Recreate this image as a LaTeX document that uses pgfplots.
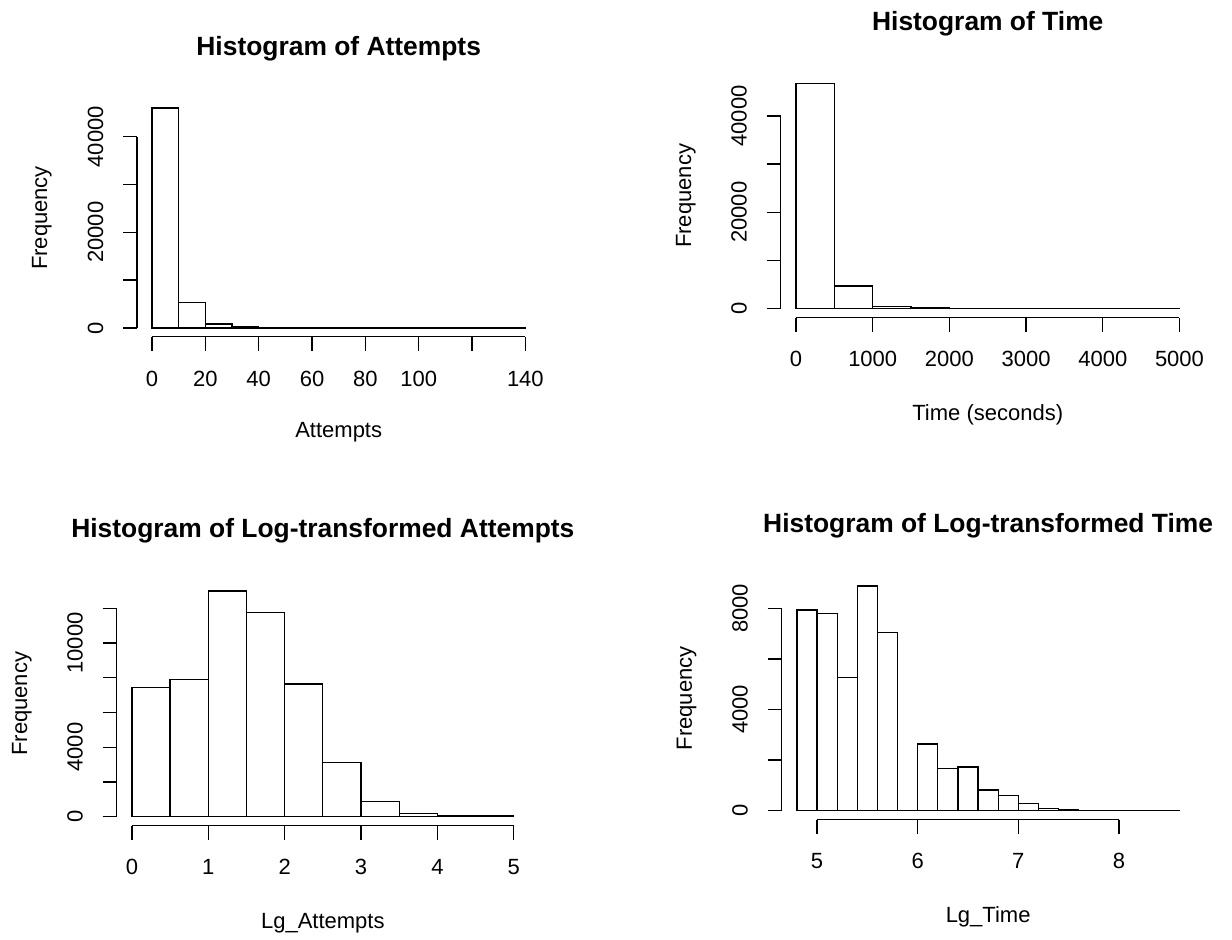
\documentclass[border=0pt]{standalone}
\usepackage{fontspec}
\setmainfont{Liberation Sans}
\usepackage{pgfplots}
\pgfplotsset{compat=1.18}

\pgfplotsset{
  rhist/.style={
    scale only axis,
    anchor=south west,
    axis lines*=left,
    axis line style={draw=none},
    tick align=outside,
    major tick length=7pt,
    every tick/.style={black, line width=0.7pt},
    scaled ticks=false,
    clip=false,
    /pgf/number format/assume math mode=true,
    tick label style={font=\fontsize{11}{13}\selectfont},
    label style={font=\fontsize{11}{13}\selectfont},
    title style={font=\fontsize{13.2}{15}\selectfont\bfseries, anchor=base},
    yticklabel style={rotate=90, anchor=south},
    xticklabel shift=6.4pt,
    yticklabel shift=6.4pt,
    ylabel={Frequency},
    ylabel style={anchor=center},
    xlabel style={anchor=center, at={(axis description cs:0.5,-0.40)}},
    title style={at={(axis description cs:0.5,1.132)}},
  },
  rbar/.style={ybar interval, draw=black, fill=white, line width=0.65pt},
}

\begin{document}
\begin{tikzpicture}
\useasboundingbox (0,0) rectangle (616pt,470pt);

% top left
\begin{axis}[rhist, at={(68.55pt,301.6pt)}, width=201.6pt, height=118.8pt,
  xmin=-5.6, xmax=145.6, ymin=-1840, ymax=47840,
  xtick={0,20,...,140}, xticklabels={0,20,40,60,80,100,,140},
  ytick={0,10000,...,40000}, yticklabels={0,,20000,,40000},
  title={Histogram of Attempts},
  xlabel={Attempts},
  ylabel style={at={(axis description cs:-0.236,0.5)}},
]
\addplot[rbar] coordinates {
  (0,46000) (10,5290) (20,840) (30,350) (40,150) (50,70) (60,35)
  (70,20) (80,12) (90,8) (100,5) (110,4) (120,3) (130,2) (140,2)
};
\draw[line width=0.7pt] (axis cs:0,-1840) -- (axis cs:140,-1840);
\draw[line width=0.7pt] (axis cs:-5.6,0) -- (axis cs:-5.6,40000);
\end{axis}

% top right
\begin{axis}[rhist, at={(390.35pt,311.15pt)}, width=207.05pt, height=121.75pt,
  xmin=-200, xmax=5200, ymin=-1872, ymax=48672,
  xtick={0,1000,...,5000}, xticklabels={0,1000,2000,3000,4000,5000},
  ytick={0,10000,...,40000}, yticklabels={0,,20000,,40000},
  title={Histogram of Time},
  xlabel={Time (seconds)},
  ylabel style={at={(axis description cs:-0.229,0.5)}},
]
\addplot[rbar] coordinates {
  (0,46800) (500,4710) (1000,480) (1500,140) (2000,50) (2500,25)
  (3000,15) (3500,10) (4000,6) (4500,4) (5000,4)
};
\draw[line width=0.7pt] (axis cs:0,-1872) -- (axis cs:5000,-1872);
\draw[line width=0.7pt] (axis cs:-200,0) -- (axis cs:-200,40000);
\end{axis}

% bottom left
\begin{axis}[rhist, at={(58.35pt,57.15pt)}, width=206.15pt, height=121.9pt,
  xmin=-0.2, xmax=5.2, ymin=-520, ymax=13520,
  xtick={0,1,...,5}, xticklabels={0,1,2,3,4,5},
  ytick={0,2000,...,12000}, yticklabels={0,,4000,,,10000,},
  title={Histogram of Log-transformed Attempts},
  xlabel={Lg\_Attempts},
  ylabel style={at={(axis description cs:-0.23,0.5)}},
]
\addplot[rbar] coordinates {
  (0,7450) (0.5,7880) (1,13000) (1.5,11770) (2,7640) (2.5,3110)
  (3,870) (3.5,200) (4,70) (4.5,30) (5,30)
};
\draw[line width=0.7pt] (axis cs:0,-520) -- (axis cs:5,-520);
\draw[line width=0.7pt] (axis cs:-0.2,0) -- (axis cs:-0.2,12000);
\end{axis}

% bottom right
\begin{axis}[rhist, at={(390.8pt,60.15pt)}, width=206.55pt, height=121.35pt,
  xmin=4.648, xmax=8.752, ymin=-355.2, ymax=9235.2,
  xtick={5,6,7,8}, xticklabels={5,6,7,8},
  ytick={0,2000,...,8000}, yticklabels={0,,4000,,8000},
  title={Histogram of Log-transformed Time},
  xlabel={Lg\_Time},
  ylabel style={at={(axis description cs:-0.23,0.5)}},
]
\addplot[rbar] coordinates {
  (4.8,7930) (5.0,7790) (5.2,5260) (5.4,8880) (5.6,7050) (5.8,0)
  (6.0,2640) (6.2,1675) (6.4,1725) (6.6,815) (6.8,595) (7.0,280)
  (7.2,80) (7.4,30) (7.6,15) (7.8,10) (8.0,8) (8.2,5) (8.4,4) (8.6,4)
};
\draw[line width=0.7pt] (axis cs:5,-355.2) -- (axis cs:8,-355.2);
\draw[line width=0.7pt] (axis cs:4.648,0) -- (axis cs:4.648,8000);
\end{axis}
\end{tikzpicture}
\end{document}
